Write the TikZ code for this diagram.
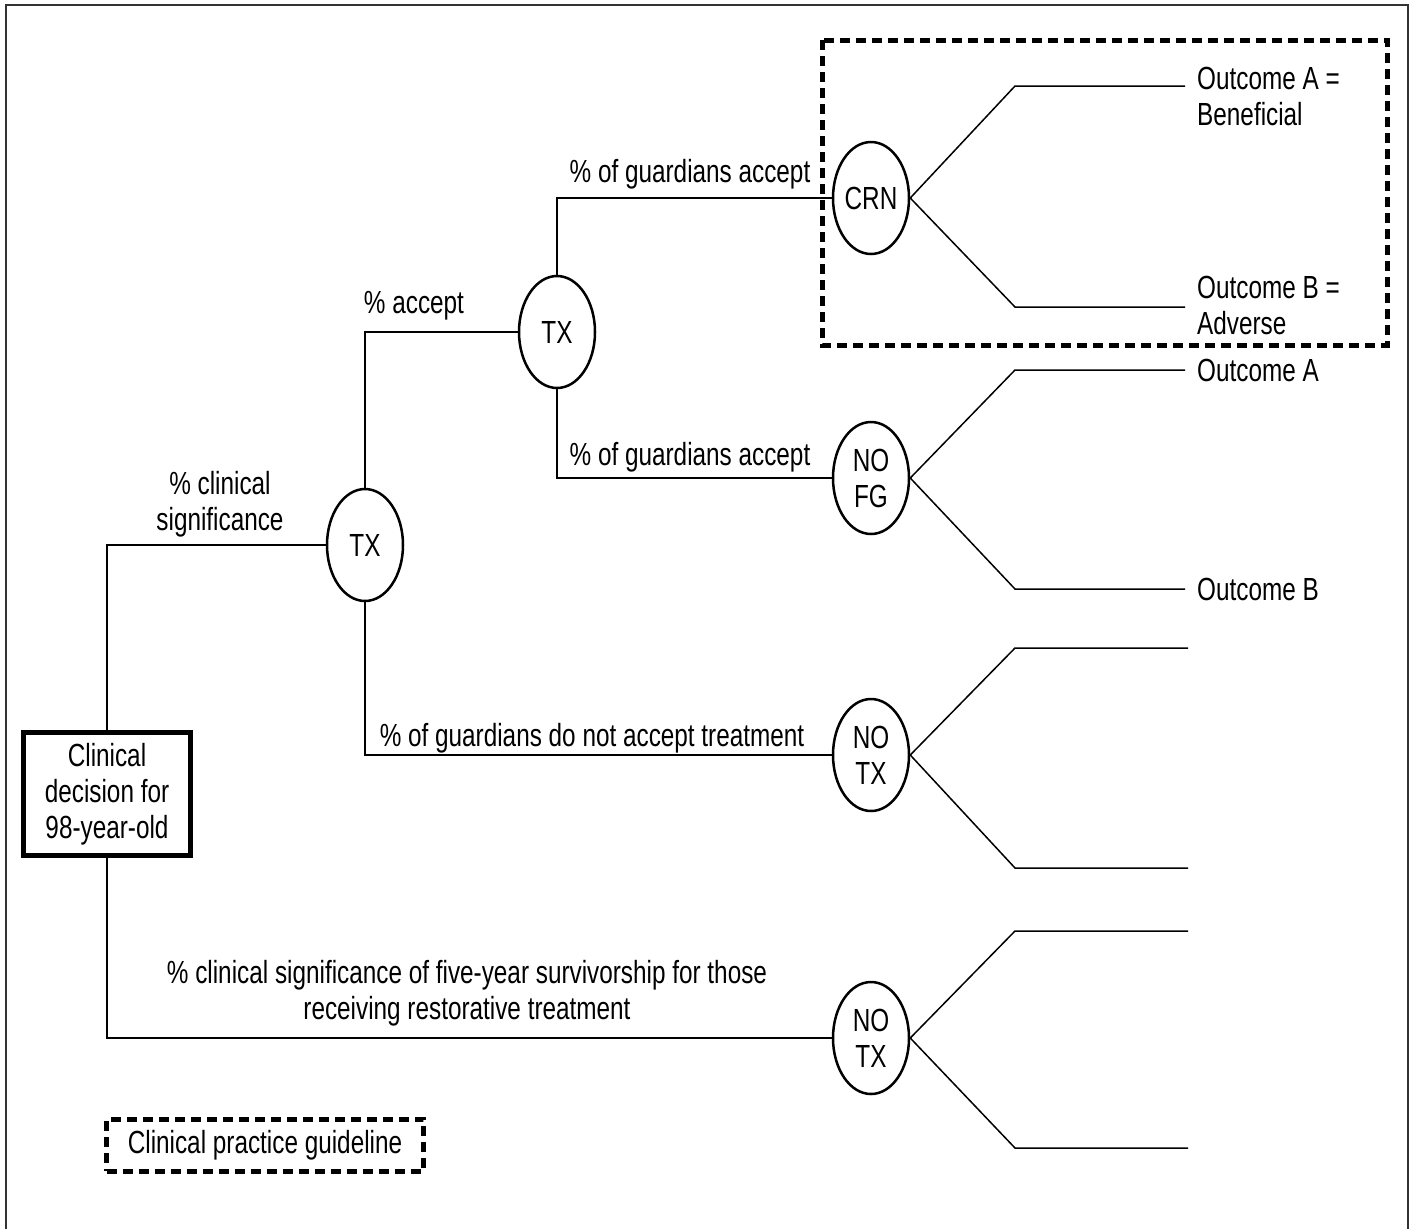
\documentclass[tikz,border=0pt]{standalone}
\usepackage{fontspec}
\setmainfont{Liberation Sans}[FakeStretch=0.76]
\usetikzlibrary{shapes.geometric}
\tikzset{
  txt/.style={font=\fontsize{32}{36}\selectfont, inner sep=0pt, align=center},
  chance/.style={ellipse, draw, line width=2.5pt, minimum width=76pt, minimum height=112pt, inner sep=0pt, font=\fontsize{32}{36}\selectfont, align=center},
  conn/.style={line width=1.5pt},
  rootbox/.style={draw, line width=5pt, minimum width=167pt, minimum height=123pt, inner sep=0pt, font=\fontsize{32}{36}\selectfont, align=center},
  dashbox/.style={line width=5pt, dash pattern=on 10pt off 6pt},
}
\begin{document}
\begin{tikzpicture}[x=1pt,y=-1pt]
\useasboundingbox (0,0) rectangle (1413,1229);
% outer frame
\draw[line width=2.5pt, black!80] (6,1229) -- (6,5) -- (1408,5) -- (1408,1229);

% nodes
\node[rootbox] (root) at (107,794) {Clinical\\decision for\\98-year-old};
\node[chance] (tx1) at (365,545) {TX};
\node[chance] (tx2) at (557,332) {TX};
\node[chance] (crn) at (871,198) {CRN};
\node[chance] (nofg) at (871,478) {NO\\FG};
\node[chance] (notx1) at (871,755) {NO\\TX};
\node[chance] (notx2) at (871,1038) {NO\\TX};

% connectors
\draw[conn] (root.north) |- (tx1.west);
\draw[conn] (tx1.north) |- (tx2.west);
\draw[conn] (tx2.north) |- (crn.west);
\draw[conn] (tx2.south) |- (nofg.west);
\draw[conn] (tx1.south) |- (notx1.west);
\draw[conn] (root.south) |- (notx2.west);

% branch coordinates
\coordinate (crnA) at (1015,86);   \coordinate (crnAe) at (1185,86);
\coordinate (crnB) at (1015,307);  \coordinate (crnBe) at (1185,307);
\coordinate (fgA) at (1015,370);   \coordinate (fgAe) at (1185,370);
\coordinate (fgB) at (1015,589);   \coordinate (fgBe) at (1185,589);
\coordinate (n1A) at (1015,648);   \coordinate (n1Ae) at (1188,648);
\coordinate (n1B) at (1015,868);   \coordinate (n1Be) at (1188,868);
\coordinate (n2A) at (1015,931);   \coordinate (n2Ae) at (1188,931);
\coordinate (n2B) at (1015,1148);  \coordinate (n2Be) at (1188,1148);

\draw[conn] (crn.east) -- (crnA) -- (crnAe);
\draw[conn] (crn.east) -- (crnB) -- (crnBe);
\draw[conn] (nofg.east) -- (fgA) -- (fgAe);
\draw[conn] (nofg.east) -- (fgB) -- (fgBe);
\draw[conn] (notx1.east) -- (n1A) -- (n1Ae);
\draw[conn] (notx1.east) -- (n1B) -- (n1Be);
\draw[conn] (notx2.east) -- (n2A) -- (n2Ae);
\draw[conn] (notx2.east) -- (n2B) -- (n2Be);

% labels on connectors
\node[txt] (l1) at (220,504) {\% clinical\\significance};
\node[txt] (l2) at (414,306) {\% accept};
\node[txt] (l3) at (690,174) {\% of guardians accept};
\node[txt] (l4) at (690,457) {\% of guardians accept};
\node[txt] (l5) at (592,738) {\% of guardians do not accept treatment};
\node[txt] (l6) at (467,993) {\% clinical significance of five-year survivorship for those\\receiving restorative treatment};

% outcomes
\node[txt, anchor=west, align=left] (oA1) at (1197,96) {Outcome A =\\Beneficial};
\node[txt, anchor=west, align=left] (oB1) at (1197,305) {Outcome B =\\Adverse};
\node[txt, anchor=west] (oA2) at (1197,370) {Outcome A};
\node[txt, anchor=west] (oB2) at (1197,589) {Outcome B};

% dashed highlight box
\draw[dashbox] (822,40) rectangle (1387,345);

% legend
\node[txt, draw, dashbox, minimum width=317pt, minimum height=52pt] (legend) at (265,1145) {Clinical practice guideline};
\end{tikzpicture}
\end{document}
